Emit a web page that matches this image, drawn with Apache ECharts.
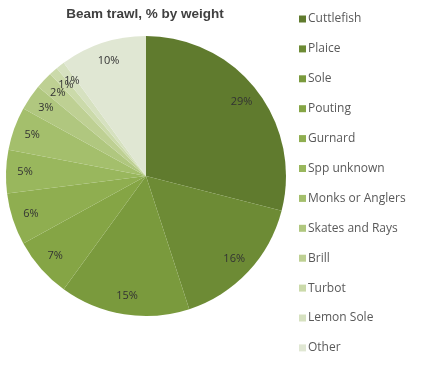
<!DOCTYPE html>
<html>
<head>
<meta charset="utf-8">
<script src="https://cdn.jsdelivr.net/npm/echarts@6/dist/echarts.min.js"></script>
<style>
  html, body { margin: 0; padding: 0; background: #fff; }
  #chart { width: 425px; height: 374px; }
</style>
</head>
<body>
<div id="chart"></div>
<script>
// Beam trawl catch composition, percentage by weight
const species = ['Cuttlefish', 'Plaice', 'Sole', 'Pouting', 'Gurnard', 'Spp unknown',
  'Monks or Anglers', 'Skates and Rays', 'Brill', 'Turbot', 'Lemon Sole', 'Other'];
const percentByWeight = [29, 16, 15, 7, 6, 5, 5, 3, 2, 1, 1, 10];
const sliceColors = ['#607b2e', '#6d8b35', '#7a9a3d', '#85a545', '#8fae50', '#99b75d',
  '#a4bf6c', '#b0c77f', '#bed093', '#cbdaaa', '#d6e1c0', '#e0e7d3'];

const pieData = species.map((name, i) => ({
  name: name,
  value: percentByWeight[i],
  itemStyle: { color: sliceColors[i] }
}));

const chart = echarts.init(document.getElementById('chart'), null, { renderer: 'canvas' });
chart.setOption({
  animation: false,
  title: {
    text: 'Beam trawl, % by weight',
    left: 140,
    top: 2,
    textAlign: 'center',
    textStyle: { fontFamily: 'Liberation Sans', fontSize: 13.5, fontWeight: 'bold', color: '#404040' }
  },
  legend: {
    orient: 'vertical',
    left: 294,
    top: 8,
    itemWidth: 7,
    itemHeight: 7,
    itemGap: 17.9,
    icon: 'rect',
    data: species,
    textStyle: { fontFamily: 'Open Sans', fontSize: 12, color: '#595959', lineHeight: 12, padding: [0, 0, 0, -3] }
  },
  series: [
    {
      type: 'pie',
      center: [146, 176],
      radius: [0, 140],
      startAngle: 90,
      clockwise: true,
      label: { show: false },
      labelLine: { show: false },
      silent: true,
      data: pieData
    },
    {
      // ring carrying the percentage labels near the rim
      type: 'pie',
      center: [146, 176],
      radius: [96, 140],
      startAngle: 90,
      clockwise: true,
      silent: true,
      avoidLabelOverlap: false,
      labelLayout: { hideOverlap: false },
      itemStyle: { color: 'rgba(0,0,0,0)' },
      labelLine: { show: false },
      label: {
        show: true,
        position: 'inside',
        formatter: '{c}%',
        fontFamily: 'Open Sans',
        fontSize: 11,
        color: '#333333'
      },
      data: species.map((name, i) => ({ name: name, value: percentByWeight[i] }))
    }
  ]
});
</script>
</body>
</html>
